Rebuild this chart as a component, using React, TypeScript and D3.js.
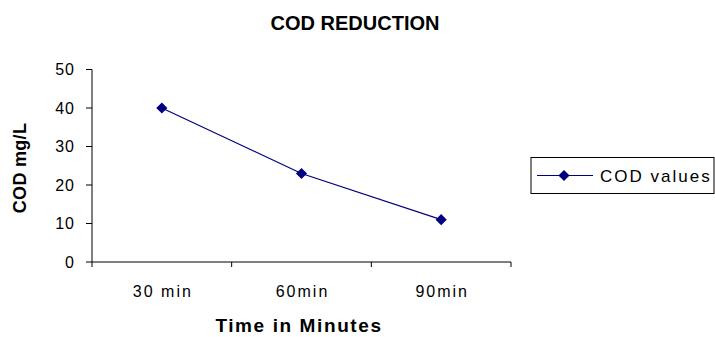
import React from "react";
import * as d3 from "d3";

const categories = ["30 min", "60min", "90min"];
const codValues = [40, 23, 11];
const yTicks = [0, 10, 20, 30, 40, 50];

const width = 715;
const height = 337;
const plot = { left: 92, right: 511, top: 69.5, bottom: 262 };
const lineColor = "#000080";
const font = "'Liberation Sans', Arial, sans-serif";

const App = () => {
  let x = d3
    .scaleBand()
    .domain(categories)
    .range([plot.left, plot.right])
    .padding(0);

  let y = d3
    .scaleLinear()
    .domain([0, 50])
    .range([plot.bottom, plot.top]);

  let cx = (i: number) => x(categories[i])! + x.bandwidth() / 2;

  let line = d3
    .line<number>()
    .x((d, i) => cx(i))
    .y(d => y(d));

  // square turned 45 degrees gives the Excel-style diamond
  let diamond = d3.symbol().type(d3.symbolSquare).size(62)();

  // band edges for the x axis ticks
  let xEdges = categories.map(c => x(c)!).concat([plot.right]);

  return (
    <svg
      width={width}
      height={height}
      style={{ position: "absolute", left: 0, top: 0, background: "#fff" }}
      fontFamily={font}
    >
      <text
        x={355}
        y={30}
        textAnchor="middle"
        fontSize={20}
        fontWeight="bold"
      >
        COD REDUCTION
      </text>

      {/* y axis */}
      <line x1={plot.left} x2={plot.left} y1={plot.top} y2={plot.bottom} stroke="#000" />
      {yTicks.map(t => (
        <g key={t}>
          <line x1={plot.left - 6} x2={plot.left} y1={y(t)} y2={y(t)} stroke="#000" />
          <text
            x={plot.left - 17}
            y={y(t)}
            dy="0.36em"
            textAnchor="end"
            fontSize={16}
            letterSpacing={1}
          >
            {t}
          </text>
        </g>
      ))}

      {/* x axis */}
      <line x1={plot.left} x2={plot.right} y1={plot.bottom} y2={plot.bottom} stroke="#000" />
      {xEdges.map((e, i) => (
        <line key={i} x1={e} x2={e} y1={plot.bottom} y2={plot.bottom + 5} stroke="#000" />
      ))}
      {categories.map((c, i) => (
        <text
          key={c}
          x={cx(i) + 1}
          y={297}
          textAnchor="middle"
          fontSize={16}
          letterSpacing={2}
        >
          {c}
        </text>
      ))}

      <text
        x={299}
        y={332}
        textAnchor="middle"
        fontSize={19}
        fontWeight="bold"
        letterSpacing={1.6}
      >
        Time in Minutes
      </text>
      <text
        transform={`translate(26,168) rotate(-90)`}
        textAnchor="middle"
        fontSize={18}
        fontWeight="bold"
        letterSpacing={0.3}
      >
        COD mg/L
      </text>

      {/* series */}
      <path d={line(codValues)!} fill="none" stroke={lineColor} strokeWidth={1.2} />
      {codValues.map((v, i) => (
        <path
          key={i}
          d={diamond!}
          transform={`translate(${cx(i)},${y(v)}) rotate(45)`}
          fill={lineColor}
        />
      ))}

      {/* legend */}
      <rect x={531} y={157.5} width={183} height={36} fill="#fff" stroke="#000" />
      <line x1={537} x2={593} y1={175.5} y2={175.5} stroke={lineColor} strokeWidth={1.2} />
      <path d={diamond!} transform="translate(564,175.5) rotate(45)" fill={lineColor} />
      <text x={600} y={175.5} dy="0.36em" fontSize={17} letterSpacing={2}>
        COD values
      </text>
    </svg>
  );
};

export default App;
